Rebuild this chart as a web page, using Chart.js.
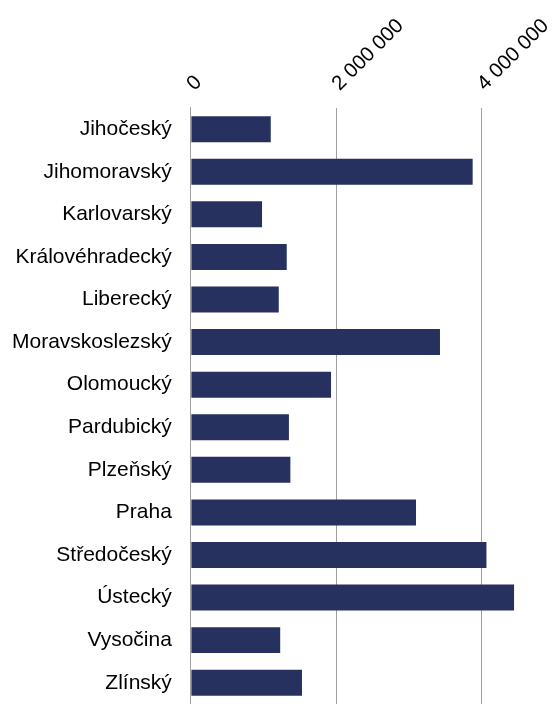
<!DOCTYPE html>
<html>
<head>
<meta charset="utf-8">
<script src="https://cdn.jsdelivr.net/npm/chart.js@4"></script>
<style>
    html, body { margin: 0; padding: 0; background: #fff; }
    #wrap { width: 554px; height: 704px; }
</style>
</head>
<body>
<div id="wrap"><canvas id="regionChart" width="554" height="704"></canvas></div>
<script>
// kraje ČR
const regions = ['Jihočeský', 'Jihomoravský', 'Karlovarský', 'Královéhradecký', 'Liberecký',
    'Moravskoslezský', 'Olomoucký', 'Pardubický', 'Plzeňský', 'Praha',
    'Středočeský', 'Ústecký', 'Vysočina', 'Zlínský'];
const values = [1100000, 3880000, 980000, 1320000, 1210000,
    3430000, 1930000, 1350000, 1370000, 3100000,
    4070000, 4450000, 1230000, 1530000];
const tickValues = [0, 2000000, 4000000];

const fmt = (v) => String(v).replace(/\B(?=(\d{3})+(?!\d))/g, ' ');

const ctx = document.getElementById('regionChart');
new Chart(ctx.getContext('2d'), {
    type: 'bar',
    data: {
        labels: regions,
        datasets: [{
            data: values,
            backgroundColor: '#26315f',
            borderWidth: 0,
            barPercentage: 0.61,
            categoryPercentage: 1
        }]
    },
    options: {
        indexAxis: 'y',
        responsive: false,
        animation: false,
        layout: { padding: { left: 12, right: 0, top: 2, bottom: 0 } },
        plugins: {
            legend: { display: false },
            tooltip: { enabled: false }
        },
        scales: {
            x: {
                position: 'top',
                min: 0,
                max: 5000000,
                afterBuildTicks: (scale) => {
                    scale.ticks = tickValues.map(v => ({ value: v }));
                },
                afterFit: (scale) => {
                    scale.paddingLeft = 0;
                    scale.paddingRight = 0;
                },
                grid: { color: '#a0a0a0', drawTicks: false },
                border: { display: false },
                ticks: {
                    minRotation: 45,
                    maxRotation: 45,
                    padding: 12,
                    labelOffset: 17,
                    color: '#000',
                    font: { family: 'Liberation Sans', size: 20.5 },
                    callback: (v) => fmt(v)
                }
            },
            y: {
                afterFit: (scale) => {
                    // chart.js counts the padding twice for the axis width
                    scale.width -= 19;
                    scale.paddingTop = 0;
                    scale.paddingBottom = 0;
                },
                grid: { display: false, drawTicks: false },
                border: { display: true, color: '#a0a0a0' },
                ticks: {
                    padding: 19,
                    color: '#000',
                    font: { family: 'Liberation Sans', size: 21 }
                }
            }
        }
    }
});
</script>
</body>
</html>
